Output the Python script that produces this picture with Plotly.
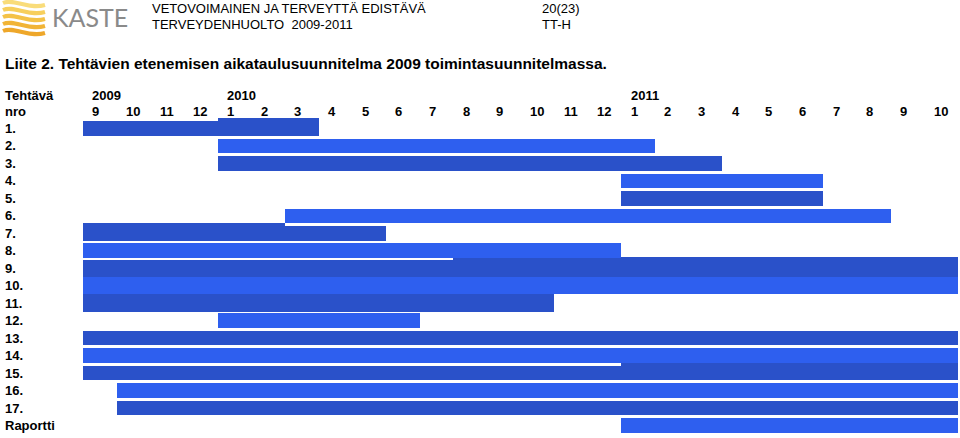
import plotly.graph_objects as go

W, H = 960, 438

# ---------------- data ----------------
tasks = ["1.", "2.", "3.", "4.", "5.", "6.", "7.", "8.", "9.", "10.",
         "11.", "12.", "13.", "14.", "15.", "16.", "17.", "Raportti"]
month_labels = ["9", "10", "11", "12",
                "1", "2", "3", "4", "5", "6", "7", "8", "9", "10", "11", "12",
                "1", "2", "3", "4", "5", "6", "7", "8", "9", "10"]
years = ["2009", "2010", "2011"]
year_first_month = [0, 4, 16]          # index into month_labels

# main bars: task number (1..18), start month index, end month index
bar_task = [1, 2, 3, 4, 5, 6, 7, 8, 9, 10, 11, 12, 13, 14, 15, 16, 17, 18]
bar_start = [0, 4, 4, 16, 16, 6, 0, 0, 0, 0, 0, 4, 0, 0, 0, 1, 1, 16]
bar_end = [7, 17, 19, 22, 22, 24, 9, 16, 26, 26, 14, 10, 26, 26, 26, 26, 26, 26]

# overlapping, slightly raised pieces seen in the original drawing
extra_task = [1, 7, 9, 15]
extra_start = [4, 0, 11, 16]
extra_end = [7, 6, 26, 26]

# ---------------- layout / style ----------------
X0_PX, MONTH_PX = 83.0, 33.65       # left edge of month 0, width of a month
ROW1_PX, ROW_PX = 128.5, 17.47      # centre of row 1, row pitch
DARK, LIGHT = "#2A51C9", "#2E5FEF"
FONT = "Liberation Sans, Arial, sans-serif"
thick_rows = {9: 1.0, 10: 1.0, 11: 1.0}
BASE_THICK = 0.84
RAISE = 0.16


def thickness(t):
    return thick_rows.get(t, BASE_THICK)


def color(t):
    return DARK if t % 2 == 1 else LIGHT


def pxy(py):
    return 1 - py / H


def pxx(px):
    return px / W


x_range = [(0 - X0_PX) / MONTH_PX, (W - X0_PX) / MONTH_PX]
y_range = [1 + (H - ROW1_PX) / ROW_PX, 1 + (0 - ROW1_PX) / ROW_PX]

fig = go.Figure()

# raised pieces first (drawn underneath)
fig.add_trace(go.Bar(
    orientation="h",
    y=extra_task,
    x=[e - s for s, e in zip(extra_start, extra_end)],
    base=extra_start,
    width=[thickness(t) for t in extra_task],
    offset=[-thickness(t) / 2 - RAISE for t in extra_task],
    marker=dict(color=[color(t) for t in extra_task], line=dict(width=0)),
    hoverinfo="skip", showlegend=False,
))

fig.add_trace(go.Bar(
    orientation="h",
    y=bar_task,
    x=[e - s for s, e in zip(bar_start, bar_end)],
    base=bar_start,
    width=[thickness(t) for t in bar_task],
    marker=dict(color=[color(t) for t in bar_task], line=dict(width=0)),
    hoverinfo="skip", showlegend=False,
))

annotations = []


def txt(text, x, y, size=13, bold=True, xref="paper", yref="paper",
        color="#000000", family=FONT, xanchor="left", yanchor="middle"):
    annotations.append(dict(
        text=text, x=x, y=y, xref=xref, yref=yref, showarrow=False,
        xanchor=xanchor, yanchor=yanchor,
        font=dict(family=family, size=size, color=color,
                  weight="bold" if bold else "normal"),
    ))


# row labels
for i, t in enumerate(tasks):
    txt(t, pxx(3), i + 1, yref="y")

# header rows
txt("Tehtävä", pxx(3), pxy(95))
txt("nro", pxx(3), pxy(111))
for yl, m in zip(years, year_first_month):
    txt(yl, m + 0.22, pxy(95), xref="x")
for m, lab in enumerate(month_labels):
    txt(lab, m + 0.22, pxy(111), xref="x")

# title
txt("Liite 2. Tehtävien etenemisen aikataulusuunnitelma 2009 toimintasuunnitelmassa.",
    pxx(3), pxy(63), size=15.5)

# page header
txt("VETOVOIMAINEN JA TERVEYTTÄ EDISTÄVÄ", pxx(150), pxy(9), size=13, bold=False)
txt("TERVEYDENHUOLTO  2009-2011", pxx(150), pxy(25), size=13, bold=False)
txt("20(23)", pxx(540), pxy(9), size=13, bold=False)
txt("TT-H", pxx(540), pxy(25), size=13, bold=False)
txt("KASTE", pxx(50), pxy(0), size=25, bold=False, color="#8a8a8a",
    family="Lato, Liberation Sans, sans-serif", yanchor="top")

# logo waves
shapes = []
wave_cols = ["#F9DC7A", "#F7CF5C", "#F4C247", "#F1B436", "#EEA72A"]
for i, c in enumerate(wave_cols):
    y0 = 3 + 7 * i
    pts = [(3, y0), (14, y0 - 5), (28, y0 + 7), (45, y0 + 2)]
    path = "M {} {} C {} {}, {} {}, {} {}".format(
        *[v for p in pts for v in (pxx(p[0]), pxy(p[1]))])
    shapes.append(dict(type="path", path=path, xref="paper", yref="paper",
                       line=dict(color=c, width=4)))

fig.update_layout(
    width=W, height=H,
    margin=dict(l=0, r=0, t=0, b=0),
    paper_bgcolor="white", plot_bgcolor="white",
    barmode="overlay", bargap=0,
    xaxis=dict(range=x_range, visible=False, fixedrange=True),
    yaxis=dict(range=y_range, visible=False, fixedrange=True),
    annotations=annotations,
    shapes=shapes,
)

fig.write_html("out.html")
